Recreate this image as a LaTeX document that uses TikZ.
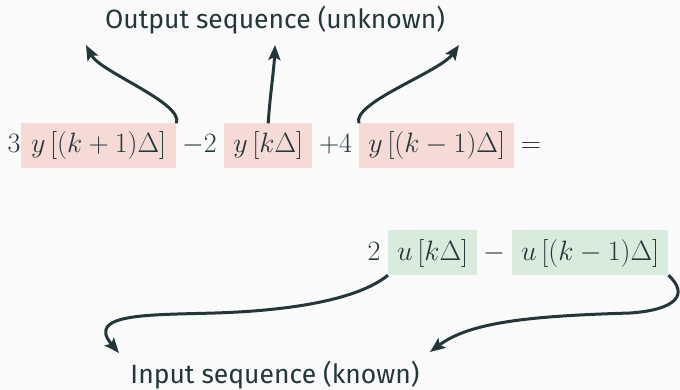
\RequirePackage{fix-cm}
\documentclass[tikz,border=0pt]{standalone}
\usepackage{fontspec}
\newfontfamily\labelfont{Fira Sans}
\usetikzlibrary{arrows.meta}
\definecolor{fg}{HTML}{23373B}
\definecolor{bg}{HTML}{FAFAFA}
\definecolor{redbox}{HTML}{F5DAD5}
\definecolor{greenbox}{HTML}{D9EBDC}
\newcommand\eqfont{\fontsize{28}{34}\selectfont}
\newcommand\lblfont{\labelfont\fontsize{26.5}{32}\selectfont}
\begin{document}
\begin{tikzpicture}[x=1pt,y=-1pt,
  term/.style={anchor=base west, inner xsep=0pt, inner ysep=0pt,
    text height=29.5pt, text depth=15pt, font=\eqfont, text=fg},
  redterm/.style={term, fill=redbox},
  greenterm/.style={term, fill=greenbox},
  num/.style={anchor=base, inner sep=0pt, font=\eqfont, text=fg},
  lbl/.style={anchor=base, inner sep=0pt, font=\lblfont, text=fg},
  conn/.style={draw=fg, line width=3pt,
    -{Stealth[length=15pt,width=12pt,inset=3pt]}}]
\useasboundingbox[fill=bg] (0,0) rectangle (680,390);

% row 1
\node[num] (c1) at (14,153) {$3$};
\node[redterm, minimum width=155pt] (b1) at (21,153) {$y\,[(k+1)\Delta]$};
\node[num] (c2) at (199.5,153) {$-2$};
\node[redterm, minimum width=88pt] (b2) at (224,153) {$y\,[k\Delta]$};
\node[num] (c3) at (335.5,153) {$+4$};
\node[redterm, minimum width=155pt] (b3) at (359,153) {$y\,[(k-1)\Delta]$};
\node[num] (eq) at (531,153) {$=$};

% row 2
\node[num] (c4) at (374,260) {$2$};
\node[greenterm, minimum width=89pt] (b4) at (388,260) {$u\,[k\Delta]$};
\node[num] (mi) at (494,260) {$-$};
\node[greenterm, minimum width=156pt] (b5) at (512,260) {$u\,[(k-1)\Delta]$};

% labels
\node[lbl] (out) at (275,29) {Output sequence (unknown)};
\node[lbl] (in) at (275,383) {Input sequence (known)};

% arrow tips
\coordinate (t1) at (86,45);
\coordinate (t2) at (275,45);
\coordinate (t3) at (459,45);
\coordinate (t4) at (119,353);
\coordinate (t5) at (430,352);

\draw[conn] (b1.north east) .. controls (184,103) and (100,72) .. (t1);
\draw[conn] (b2.north) .. controls (270,95) and (274,70) .. (t2);
\draw[conn] (b3.north west) .. controls (351,103) and (440,72) .. (t3);
\draw[conn] (b4.south west) .. controls (355,302) and (280,311) .. (215,313)
  .. controls (150,315) and (85,313) .. (t4);
\draw[conn] (b5.south east) .. controls (690,295) and (675,310) .. (630,313)
  .. controls (530,316) and (470,322) .. (t5);
\end{tikzpicture}
\end{document}
